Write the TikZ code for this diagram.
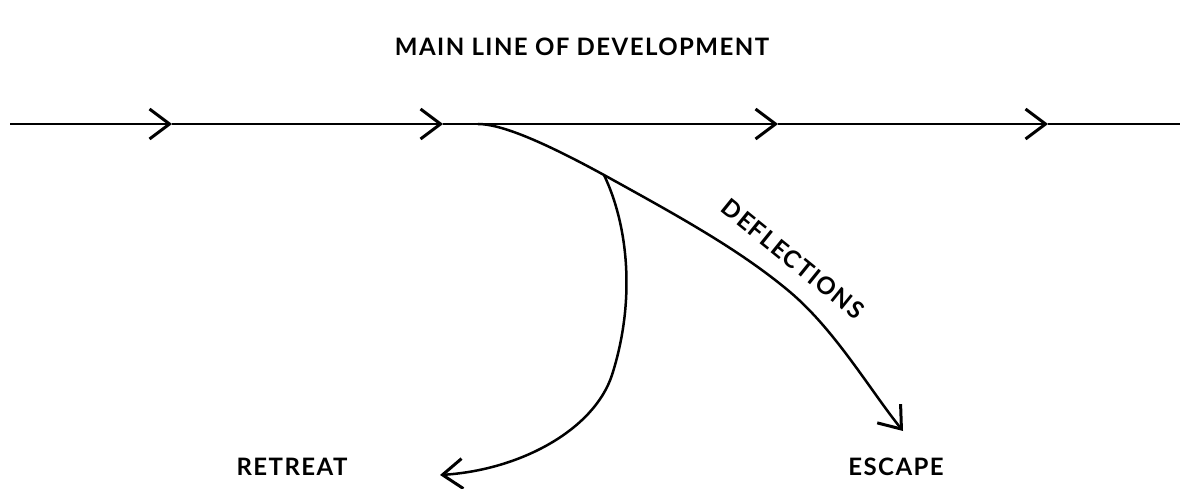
\documentclass[tikz,border=0pt]{standalone}
\usepackage{fontspec}
\setmainfont{Lato}[LetterSpace=6]
\usetikzlibrary{arrows.meta}

\tikzset{
    mainline/.style={line width=1.3pt},
    branch/.style={line width=2.5pt, line cap=round},
    chevron/.style={-{Straight Barb[length=20pt, width=30pt, line width=3pt]}},
    lbl/.style={font=\bfseries\fontsize{24}{28}\selectfont, inner sep=0pt}
}

\begin{document}
\begin{tikzpicture}[x=1pt, y=-1pt]
    \useasboundingbox (0,0) rectangle (1180,489);
    % labels
    \node[lbl] (title) at (582,47) {MAIN LINE OF DEVELOPMENT};
    \node[lbl] (retreat) at (292,467) {RETREAT};
    \node[lbl] (escape) at (896,467) {ESCAPE};
    \node[lbl, rotate=-39] (deflections) at (793,259) {DEFLECTIONS};
    % main line
    \coordinate (m0) at (10,124);
    \coordinate (m1) at (172,124);
    \coordinate (m2) at (443,124);
    \coordinate (m3) at (778,124);
    \coordinate (m4) at (1048,124);
    \coordinate (m5) at (1180,124);
    \foreach \a/\b in {m0/m1, m1/m2, m2/m3, m3/m4}
        \draw[mainline, chevron] (\a) -- (\b);
    \draw[mainline] (m4) -- (m5);
    % branches
    \coordinate (fork) at (478,124);
    \coordinate (split) at (604,175);
    \coordinate (bend) at (790,292);
    \coordinate (esc) at (903,431);
    \coordinate (turn) at (612,375);
    \coordinate (ret) at (440,475);
    \draw[branch, chevron] (fork) .. controls (500,124) and (540,140) .. (split)
        .. controls (680,217) and (740,250) .. (bend)
        .. controls (835,330) and (870,390) .. (esc);
    \draw[branch, chevron] (split) .. controls (628,225) and (636,300) .. (turn)
        .. controls (594,430) and (520,470) .. (ret);
\end{tikzpicture}
\end{document}
